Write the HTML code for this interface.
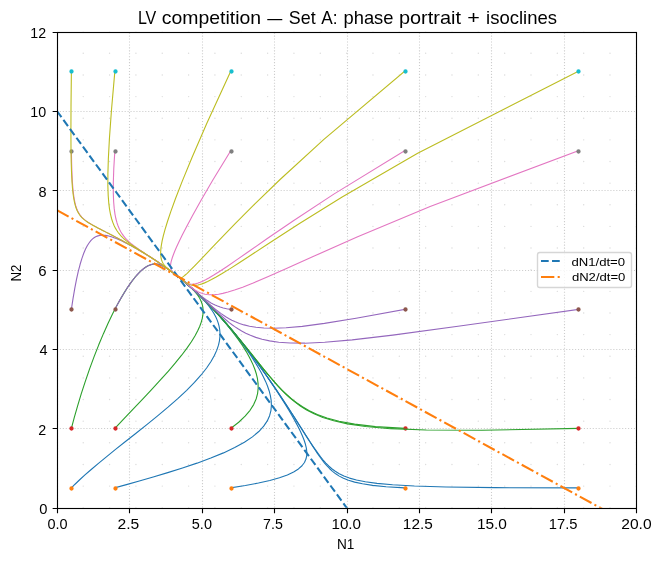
<!DOCTYPE html>
<html lang="en"><head><meta charset="utf-8"><title>LV competition — Set A: phase portrait + isoclines</title>
<style>html,body{margin:0;padding:0;background:#ffffff;}body{width:661px;height:561px;overflow:hidden;font-family:"Liberation Sans",sans-serif;}svg text{font-family:"Liberation Sans",sans-serif;}</style>
</head><body>
<svg width="661" height="561" viewBox="0 0 661 561" style="display:block;will-change:transform">
<rect x="0" y="0" width="661" height="561" fill="#ffffff"/>
<defs><clipPath id="ac"><rect x="56.903" y="31.667" width="579.451" height="476.055"/></clipPath></defs>
<g stroke="#b0b0b0" stroke-opacity="0.64" stroke-width="1.111" stroke-dasharray="1.111 1.833" fill="none" clip-path="url(#ac)">
<path d="M57.5 507.72V31.67"/>
<path d="M129.5 507.72V31.67"/>
<path d="M202.5 507.72V31.67"/>
<path d="M274.5 507.72V31.67"/>
<path d="M347.5 507.72V31.67"/>
<path d="M419.5 507.72V31.67"/>
<path d="M491.5 507.72V31.67"/>
<path d="M564.5 507.72V31.67"/>
<path d="M636.5 507.72V31.67"/>
<path d="M56.9 508.5H636.35"/>
<path d="M56.9 428.5H636.35"/>
<path d="M56.9 349.5H636.35"/>
<path d="M56.9 270.5H636.35"/>
<path d="M56.9 190.5H636.35"/>
<path d="M56.9 111.5H636.35"/>
<path d="M56.9 32.5H636.35"/>
</g>
<g fill="#d3d3d3" fill-opacity="0.8" clip-path="url(#ac)">
<circle cx="56.9" cy="507.72" r="0.7"/>
<circle cx="56.9" cy="486.08" r="0.7"/>
<circle cx="56.9" cy="464.44" r="0.7"/>
<circle cx="56.9" cy="442.81" r="0.7"/>
<circle cx="56.9" cy="421.17" r="0.7"/>
<circle cx="56.9" cy="399.53" r="0.7"/>
<circle cx="56.9" cy="377.89" r="0.7"/>
<circle cx="56.9" cy="356.25" r="0.7"/>
<circle cx="56.9" cy="334.61" r="0.7"/>
<circle cx="56.9" cy="312.97" r="0.7"/>
<circle cx="56.9" cy="291.33" r="0.7"/>
<circle cx="56.9" cy="269.69" r="0.7"/>
<circle cx="56.9" cy="248.06" r="0.7"/>
<circle cx="56.9" cy="226.42" r="0.7"/>
<circle cx="56.9" cy="204.78" r="0.7"/>
<circle cx="56.9" cy="183.14" r="0.7"/>
<circle cx="56.9" cy="161.5" r="0.7"/>
<circle cx="56.9" cy="139.86" r="0.7"/>
<circle cx="56.9" cy="118.22" r="0.7"/>
<circle cx="56.9" cy="96.58" r="0.7"/>
<circle cx="56.9" cy="74.95" r="0.7"/>
<circle cx="56.9" cy="53.31" r="0.7"/>
<circle cx="56.9" cy="31.67" r="0.7"/>
<circle cx="83.24" cy="507.72" r="0.7"/>
<circle cx="83.24" cy="486.08" r="0.7"/>
<circle cx="83.24" cy="464.44" r="0.7"/>
<circle cx="83.24" cy="442.81" r="0.7"/>
<circle cx="83.24" cy="421.17" r="0.7"/>
<circle cx="83.24" cy="399.53" r="0.7"/>
<circle cx="83.24" cy="377.89" r="0.7"/>
<circle cx="83.24" cy="356.25" r="0.7"/>
<circle cx="83.24" cy="334.61" r="0.7"/>
<circle cx="83.24" cy="312.97" r="0.7"/>
<circle cx="83.24" cy="291.33" r="0.7"/>
<circle cx="83.24" cy="269.69" r="0.7"/>
<circle cx="83.24" cy="248.06" r="0.7"/>
<circle cx="83.24" cy="226.42" r="0.7"/>
<circle cx="83.24" cy="204.78" r="0.7"/>
<circle cx="83.24" cy="183.14" r="0.7"/>
<circle cx="83.24" cy="161.5" r="0.7"/>
<circle cx="83.24" cy="139.86" r="0.7"/>
<circle cx="83.24" cy="118.22" r="0.7"/>
<circle cx="83.24" cy="96.58" r="0.7"/>
<circle cx="83.24" cy="74.95" r="0.7"/>
<circle cx="83.24" cy="53.31" r="0.7"/>
<circle cx="83.24" cy="31.67" r="0.7"/>
<circle cx="109.58" cy="507.72" r="0.7"/>
<circle cx="109.58" cy="486.08" r="0.7"/>
<circle cx="109.58" cy="464.44" r="0.7"/>
<circle cx="109.58" cy="442.81" r="0.7"/>
<circle cx="109.58" cy="421.17" r="0.7"/>
<circle cx="109.58" cy="399.53" r="0.7"/>
<circle cx="109.58" cy="377.89" r="0.7"/>
<circle cx="109.58" cy="356.25" r="0.7"/>
<circle cx="109.58" cy="334.61" r="0.7"/>
<circle cx="109.58" cy="312.97" r="0.7"/>
<circle cx="109.58" cy="291.33" r="0.7"/>
<circle cx="109.58" cy="269.69" r="0.7"/>
<circle cx="109.58" cy="248.06" r="0.7"/>
<circle cx="109.58" cy="226.42" r="0.7"/>
<circle cx="109.58" cy="204.78" r="0.7"/>
<circle cx="109.58" cy="183.14" r="0.7"/>
<circle cx="109.58" cy="161.5" r="0.7"/>
<circle cx="109.58" cy="139.86" r="0.7"/>
<circle cx="109.58" cy="118.22" r="0.7"/>
<circle cx="109.58" cy="96.58" r="0.7"/>
<circle cx="109.58" cy="74.95" r="0.7"/>
<circle cx="109.58" cy="53.31" r="0.7"/>
<circle cx="109.58" cy="31.67" r="0.7"/>
<circle cx="135.92" cy="507.72" r="0.7"/>
<circle cx="135.92" cy="486.08" r="0.7"/>
<circle cx="135.92" cy="464.44" r="0.7"/>
<circle cx="135.92" cy="442.81" r="0.7"/>
<circle cx="135.92" cy="421.17" r="0.7"/>
<circle cx="135.92" cy="399.53" r="0.7"/>
<circle cx="135.92" cy="377.89" r="0.7"/>
<circle cx="135.92" cy="356.25" r="0.7"/>
<circle cx="135.92" cy="334.61" r="0.7"/>
<circle cx="135.92" cy="312.97" r="0.7"/>
<circle cx="135.92" cy="291.33" r="0.7"/>
<circle cx="135.92" cy="269.69" r="0.7"/>
<circle cx="135.92" cy="248.06" r="0.7"/>
<circle cx="135.92" cy="226.42" r="0.7"/>
<circle cx="135.92" cy="204.78" r="0.7"/>
<circle cx="135.92" cy="183.14" r="0.7"/>
<circle cx="135.92" cy="161.5" r="0.7"/>
<circle cx="135.92" cy="139.86" r="0.7"/>
<circle cx="135.92" cy="118.22" r="0.7"/>
<circle cx="135.92" cy="96.58" r="0.7"/>
<circle cx="135.92" cy="74.95" r="0.7"/>
<circle cx="135.92" cy="53.31" r="0.7"/>
<circle cx="135.92" cy="31.67" r="0.7"/>
<circle cx="162.26" cy="507.72" r="0.7"/>
<circle cx="162.26" cy="486.08" r="0.7"/>
<circle cx="162.26" cy="464.44" r="0.7"/>
<circle cx="162.26" cy="442.81" r="0.7"/>
<circle cx="162.26" cy="421.17" r="0.7"/>
<circle cx="162.26" cy="399.53" r="0.7"/>
<circle cx="162.26" cy="377.89" r="0.7"/>
<circle cx="162.26" cy="356.25" r="0.7"/>
<circle cx="162.26" cy="334.61" r="0.7"/>
<circle cx="162.26" cy="312.97" r="0.7"/>
<circle cx="162.26" cy="291.33" r="0.7"/>
<circle cx="162.26" cy="269.69" r="0.7"/>
<circle cx="162.26" cy="248.06" r="0.7"/>
<circle cx="162.26" cy="226.42" r="0.7"/>
<circle cx="162.26" cy="204.78" r="0.7"/>
<circle cx="162.26" cy="183.14" r="0.7"/>
<circle cx="162.26" cy="161.5" r="0.7"/>
<circle cx="162.26" cy="139.86" r="0.7"/>
<circle cx="162.26" cy="118.22" r="0.7"/>
<circle cx="162.26" cy="96.58" r="0.7"/>
<circle cx="162.26" cy="74.95" r="0.7"/>
<circle cx="162.26" cy="53.31" r="0.7"/>
<circle cx="162.26" cy="31.67" r="0.7"/>
<circle cx="188.6" cy="507.72" r="0.7"/>
<circle cx="188.6" cy="486.08" r="0.7"/>
<circle cx="188.6" cy="464.44" r="0.7"/>
<circle cx="188.6" cy="442.81" r="0.7"/>
<circle cx="188.6" cy="421.17" r="0.7"/>
<circle cx="188.6" cy="399.53" r="0.7"/>
<circle cx="188.6" cy="377.89" r="0.7"/>
<circle cx="188.6" cy="356.25" r="0.7"/>
<circle cx="188.6" cy="334.61" r="0.7"/>
<circle cx="188.6" cy="312.97" r="0.7"/>
<circle cx="188.6" cy="291.33" r="0.7"/>
<circle cx="188.6" cy="269.69" r="0.7"/>
<circle cx="188.6" cy="248.06" r="0.7"/>
<circle cx="188.6" cy="226.42" r="0.7"/>
<circle cx="188.6" cy="204.78" r="0.7"/>
<circle cx="188.6" cy="183.14" r="0.7"/>
<circle cx="188.6" cy="161.5" r="0.7"/>
<circle cx="188.6" cy="139.86" r="0.7"/>
<circle cx="188.6" cy="118.22" r="0.7"/>
<circle cx="188.6" cy="96.58" r="0.7"/>
<circle cx="188.6" cy="74.95" r="0.7"/>
<circle cx="188.6" cy="53.31" r="0.7"/>
<circle cx="188.6" cy="31.67" r="0.7"/>
<circle cx="214.93" cy="507.72" r="0.7"/>
<circle cx="214.93" cy="486.08" r="0.7"/>
<circle cx="214.93" cy="464.44" r="0.7"/>
<circle cx="214.93" cy="442.81" r="0.7"/>
<circle cx="214.93" cy="421.17" r="0.7"/>
<circle cx="214.93" cy="399.53" r="0.7"/>
<circle cx="214.93" cy="377.89" r="0.7"/>
<circle cx="214.93" cy="356.25" r="0.7"/>
<circle cx="214.93" cy="334.61" r="0.7"/>
<circle cx="214.93" cy="312.97" r="0.7"/>
<circle cx="214.93" cy="291.33" r="0.7"/>
<circle cx="214.93" cy="269.69" r="0.7"/>
<circle cx="214.93" cy="248.06" r="0.7"/>
<circle cx="214.93" cy="226.42" r="0.7"/>
<circle cx="214.93" cy="204.78" r="0.7"/>
<circle cx="214.93" cy="183.14" r="0.7"/>
<circle cx="214.93" cy="161.5" r="0.7"/>
<circle cx="214.93" cy="139.86" r="0.7"/>
<circle cx="214.93" cy="118.22" r="0.7"/>
<circle cx="214.93" cy="96.58" r="0.7"/>
<circle cx="214.93" cy="74.95" r="0.7"/>
<circle cx="214.93" cy="53.31" r="0.7"/>
<circle cx="214.93" cy="31.67" r="0.7"/>
<circle cx="241.27" cy="507.72" r="0.7"/>
<circle cx="241.27" cy="486.08" r="0.7"/>
<circle cx="241.27" cy="464.44" r="0.7"/>
<circle cx="241.27" cy="442.81" r="0.7"/>
<circle cx="241.27" cy="421.17" r="0.7"/>
<circle cx="241.27" cy="399.53" r="0.7"/>
<circle cx="241.27" cy="377.89" r="0.7"/>
<circle cx="241.27" cy="356.25" r="0.7"/>
<circle cx="241.27" cy="334.61" r="0.7"/>
<circle cx="241.27" cy="312.97" r="0.7"/>
<circle cx="241.27" cy="291.33" r="0.7"/>
<circle cx="241.27" cy="269.69" r="0.7"/>
<circle cx="241.27" cy="248.06" r="0.7"/>
<circle cx="241.27" cy="226.42" r="0.7"/>
<circle cx="241.27" cy="204.78" r="0.7"/>
<circle cx="241.27" cy="183.14" r="0.7"/>
<circle cx="241.27" cy="161.5" r="0.7"/>
<circle cx="241.27" cy="139.86" r="0.7"/>
<circle cx="241.27" cy="118.22" r="0.7"/>
<circle cx="241.27" cy="96.58" r="0.7"/>
<circle cx="241.27" cy="74.95" r="0.7"/>
<circle cx="241.27" cy="53.31" r="0.7"/>
<circle cx="241.27" cy="31.67" r="0.7"/>
<circle cx="267.61" cy="507.72" r="0.7"/>
<circle cx="267.61" cy="486.08" r="0.7"/>
<circle cx="267.61" cy="464.44" r="0.7"/>
<circle cx="267.61" cy="442.81" r="0.7"/>
<circle cx="267.61" cy="421.17" r="0.7"/>
<circle cx="267.61" cy="399.53" r="0.7"/>
<circle cx="267.61" cy="377.89" r="0.7"/>
<circle cx="267.61" cy="356.25" r="0.7"/>
<circle cx="267.61" cy="334.61" r="0.7"/>
<circle cx="267.61" cy="312.97" r="0.7"/>
<circle cx="267.61" cy="291.33" r="0.7"/>
<circle cx="267.61" cy="269.69" r="0.7"/>
<circle cx="267.61" cy="248.06" r="0.7"/>
<circle cx="267.61" cy="226.42" r="0.7"/>
<circle cx="267.61" cy="204.78" r="0.7"/>
<circle cx="267.61" cy="183.14" r="0.7"/>
<circle cx="267.61" cy="161.5" r="0.7"/>
<circle cx="267.61" cy="139.86" r="0.7"/>
<circle cx="267.61" cy="118.22" r="0.7"/>
<circle cx="267.61" cy="96.58" r="0.7"/>
<circle cx="267.61" cy="74.95" r="0.7"/>
<circle cx="267.61" cy="53.31" r="0.7"/>
<circle cx="267.61" cy="31.67" r="0.7"/>
<circle cx="293.95" cy="507.72" r="0.7"/>
<circle cx="293.95" cy="486.08" r="0.7"/>
<circle cx="293.95" cy="464.44" r="0.7"/>
<circle cx="293.95" cy="442.81" r="0.7"/>
<circle cx="293.95" cy="421.17" r="0.7"/>
<circle cx="293.95" cy="399.53" r="0.7"/>
<circle cx="293.95" cy="377.89" r="0.7"/>
<circle cx="293.95" cy="356.25" r="0.7"/>
<circle cx="293.95" cy="334.61" r="0.7"/>
<circle cx="293.95" cy="312.97" r="0.7"/>
<circle cx="293.95" cy="291.33" r="0.7"/>
<circle cx="293.95" cy="269.69" r="0.7"/>
<circle cx="293.95" cy="248.06" r="0.7"/>
<circle cx="293.95" cy="226.42" r="0.7"/>
<circle cx="293.95" cy="204.78" r="0.7"/>
<circle cx="293.95" cy="183.14" r="0.7"/>
<circle cx="293.95" cy="161.5" r="0.7"/>
<circle cx="293.95" cy="139.86" r="0.7"/>
<circle cx="293.95" cy="118.22" r="0.7"/>
<circle cx="293.95" cy="96.58" r="0.7"/>
<circle cx="293.95" cy="74.95" r="0.7"/>
<circle cx="293.95" cy="53.31" r="0.7"/>
<circle cx="293.95" cy="31.67" r="0.7"/>
<circle cx="320.29" cy="507.72" r="0.7"/>
<circle cx="320.29" cy="486.08" r="0.7"/>
<circle cx="320.29" cy="464.44" r="0.7"/>
<circle cx="320.29" cy="442.81" r="0.7"/>
<circle cx="320.29" cy="421.17" r="0.7"/>
<circle cx="320.29" cy="399.53" r="0.7"/>
<circle cx="320.29" cy="377.89" r="0.7"/>
<circle cx="320.29" cy="356.25" r="0.7"/>
<circle cx="320.29" cy="334.61" r="0.7"/>
<circle cx="320.29" cy="312.97" r="0.7"/>
<circle cx="320.29" cy="291.33" r="0.7"/>
<circle cx="320.29" cy="269.69" r="0.7"/>
<circle cx="320.29" cy="248.06" r="0.7"/>
<circle cx="320.29" cy="226.42" r="0.7"/>
<circle cx="320.29" cy="204.78" r="0.7"/>
<circle cx="320.29" cy="183.14" r="0.7"/>
<circle cx="320.29" cy="161.5" r="0.7"/>
<circle cx="320.29" cy="139.86" r="0.7"/>
<circle cx="320.29" cy="118.22" r="0.7"/>
<circle cx="320.29" cy="96.58" r="0.7"/>
<circle cx="320.29" cy="74.95" r="0.7"/>
<circle cx="320.29" cy="53.31" r="0.7"/>
<circle cx="320.29" cy="31.67" r="0.7"/>
<circle cx="346.63" cy="507.72" r="0.7"/>
<circle cx="346.63" cy="486.08" r="0.7"/>
<circle cx="346.63" cy="464.44" r="0.7"/>
<circle cx="346.63" cy="442.81" r="0.7"/>
<circle cx="346.63" cy="421.17" r="0.7"/>
<circle cx="346.63" cy="399.53" r="0.7"/>
<circle cx="346.63" cy="377.89" r="0.7"/>
<circle cx="346.63" cy="356.25" r="0.7"/>
<circle cx="346.63" cy="334.61" r="0.7"/>
<circle cx="346.63" cy="312.97" r="0.7"/>
<circle cx="346.63" cy="291.33" r="0.7"/>
<circle cx="346.63" cy="269.69" r="0.7"/>
<circle cx="346.63" cy="248.06" r="0.7"/>
<circle cx="346.63" cy="226.42" r="0.7"/>
<circle cx="346.63" cy="204.78" r="0.7"/>
<circle cx="346.63" cy="183.14" r="0.7"/>
<circle cx="346.63" cy="161.5" r="0.7"/>
<circle cx="346.63" cy="139.86" r="0.7"/>
<circle cx="346.63" cy="118.22" r="0.7"/>
<circle cx="346.63" cy="96.58" r="0.7"/>
<circle cx="346.63" cy="74.95" r="0.7"/>
<circle cx="346.63" cy="53.31" r="0.7"/>
<circle cx="346.63" cy="31.67" r="0.7"/>
<circle cx="372.97" cy="507.72" r="0.7"/>
<circle cx="372.97" cy="486.08" r="0.7"/>
<circle cx="372.97" cy="464.44" r="0.7"/>
<circle cx="372.97" cy="442.81" r="0.7"/>
<circle cx="372.97" cy="421.17" r="0.7"/>
<circle cx="372.97" cy="399.53" r="0.7"/>
<circle cx="372.97" cy="377.89" r="0.7"/>
<circle cx="372.97" cy="356.25" r="0.7"/>
<circle cx="372.97" cy="334.61" r="0.7"/>
<circle cx="372.97" cy="312.97" r="0.7"/>
<circle cx="372.97" cy="291.33" r="0.7"/>
<circle cx="372.97" cy="269.69" r="0.7"/>
<circle cx="372.97" cy="248.06" r="0.7"/>
<circle cx="372.97" cy="226.42" r="0.7"/>
<circle cx="372.97" cy="204.78" r="0.7"/>
<circle cx="372.97" cy="183.14" r="0.7"/>
<circle cx="372.97" cy="161.5" r="0.7"/>
<circle cx="372.97" cy="139.86" r="0.7"/>
<circle cx="372.97" cy="118.22" r="0.7"/>
<circle cx="372.97" cy="96.58" r="0.7"/>
<circle cx="372.97" cy="74.95" r="0.7"/>
<circle cx="372.97" cy="53.31" r="0.7"/>
<circle cx="372.97" cy="31.67" r="0.7"/>
<circle cx="399.31" cy="507.72" r="0.7"/>
<circle cx="399.31" cy="486.08" r="0.7"/>
<circle cx="399.31" cy="464.44" r="0.7"/>
<circle cx="399.31" cy="442.81" r="0.7"/>
<circle cx="399.31" cy="421.17" r="0.7"/>
<circle cx="399.31" cy="399.53" r="0.7"/>
<circle cx="399.31" cy="377.89" r="0.7"/>
<circle cx="399.31" cy="356.25" r="0.7"/>
<circle cx="399.31" cy="334.61" r="0.7"/>
<circle cx="399.31" cy="312.97" r="0.7"/>
<circle cx="399.31" cy="291.33" r="0.7"/>
<circle cx="399.31" cy="269.69" r="0.7"/>
<circle cx="399.31" cy="248.06" r="0.7"/>
<circle cx="399.31" cy="226.42" r="0.7"/>
<circle cx="399.31" cy="204.78" r="0.7"/>
<circle cx="399.31" cy="183.14" r="0.7"/>
<circle cx="399.31" cy="161.5" r="0.7"/>
<circle cx="399.31" cy="139.86" r="0.7"/>
<circle cx="399.31" cy="118.22" r="0.7"/>
<circle cx="399.31" cy="96.58" r="0.7"/>
<circle cx="399.31" cy="74.95" r="0.7"/>
<circle cx="399.31" cy="53.31" r="0.7"/>
<circle cx="399.31" cy="31.67" r="0.7"/>
<circle cx="425.64" cy="507.72" r="0.7"/>
<circle cx="425.64" cy="486.08" r="0.7"/>
<circle cx="425.64" cy="464.44" r="0.7"/>
<circle cx="425.64" cy="442.81" r="0.7"/>
<circle cx="425.64" cy="421.17" r="0.7"/>
<circle cx="425.64" cy="399.53" r="0.7"/>
<circle cx="425.64" cy="377.89" r="0.7"/>
<circle cx="425.64" cy="356.25" r="0.7"/>
<circle cx="425.64" cy="334.61" r="0.7"/>
<circle cx="425.64" cy="312.97" r="0.7"/>
<circle cx="425.64" cy="291.33" r="0.7"/>
<circle cx="425.64" cy="269.69" r="0.7"/>
<circle cx="425.64" cy="248.06" r="0.7"/>
<circle cx="425.64" cy="226.42" r="0.7"/>
<circle cx="425.64" cy="204.78" r="0.7"/>
<circle cx="425.64" cy="183.14" r="0.7"/>
<circle cx="425.64" cy="161.5" r="0.7"/>
<circle cx="425.64" cy="139.86" r="0.7"/>
<circle cx="425.64" cy="118.22" r="0.7"/>
<circle cx="425.64" cy="96.58" r="0.7"/>
<circle cx="425.64" cy="74.95" r="0.7"/>
<circle cx="425.64" cy="53.31" r="0.7"/>
<circle cx="425.64" cy="31.67" r="0.7"/>
<circle cx="451.98" cy="507.72" r="0.7"/>
<circle cx="451.98" cy="486.08" r="0.7"/>
<circle cx="451.98" cy="464.44" r="0.7"/>
<circle cx="451.98" cy="442.81" r="0.7"/>
<circle cx="451.98" cy="421.17" r="0.7"/>
<circle cx="451.98" cy="399.53" r="0.7"/>
<circle cx="451.98" cy="377.89" r="0.7"/>
<circle cx="451.98" cy="356.25" r="0.7"/>
<circle cx="451.98" cy="334.61" r="0.7"/>
<circle cx="451.98" cy="312.97" r="0.7"/>
<circle cx="451.98" cy="291.33" r="0.7"/>
<circle cx="451.98" cy="269.69" r="0.7"/>
<circle cx="451.98" cy="248.06" r="0.7"/>
<circle cx="451.98" cy="226.42" r="0.7"/>
<circle cx="451.98" cy="204.78" r="0.7"/>
<circle cx="451.98" cy="183.14" r="0.7"/>
<circle cx="451.98" cy="161.5" r="0.7"/>
<circle cx="451.98" cy="139.86" r="0.7"/>
<circle cx="451.98" cy="118.22" r="0.7"/>
<circle cx="451.98" cy="96.58" r="0.7"/>
<circle cx="451.98" cy="74.95" r="0.7"/>
<circle cx="451.98" cy="53.31" r="0.7"/>
<circle cx="451.98" cy="31.67" r="0.7"/>
<circle cx="478.32" cy="507.72" r="0.7"/>
<circle cx="478.32" cy="486.08" r="0.7"/>
<circle cx="478.32" cy="464.44" r="0.7"/>
<circle cx="478.32" cy="442.81" r="0.7"/>
<circle cx="478.32" cy="421.17" r="0.7"/>
<circle cx="478.32" cy="399.53" r="0.7"/>
<circle cx="478.32" cy="377.89" r="0.7"/>
<circle cx="478.32" cy="356.25" r="0.7"/>
<circle cx="478.32" cy="334.61" r="0.7"/>
<circle cx="478.32" cy="312.97" r="0.7"/>
<circle cx="478.32" cy="291.33" r="0.7"/>
<circle cx="478.32" cy="269.69" r="0.7"/>
<circle cx="478.32" cy="248.06" r="0.7"/>
<circle cx="478.32" cy="226.42" r="0.7"/>
<circle cx="478.32" cy="204.78" r="0.7"/>
<circle cx="478.32" cy="183.14" r="0.7"/>
<circle cx="478.32" cy="161.5" r="0.7"/>
<circle cx="478.32" cy="139.86" r="0.7"/>
<circle cx="478.32" cy="118.22" r="0.7"/>
<circle cx="478.32" cy="96.58" r="0.7"/>
<circle cx="478.32" cy="74.95" r="0.7"/>
<circle cx="478.32" cy="53.31" r="0.7"/>
<circle cx="478.32" cy="31.67" r="0.7"/>
<circle cx="504.66" cy="507.72" r="0.7"/>
<circle cx="504.66" cy="486.08" r="0.7"/>
<circle cx="504.66" cy="464.44" r="0.7"/>
<circle cx="504.66" cy="442.81" r="0.7"/>
<circle cx="504.66" cy="421.17" r="0.7"/>
<circle cx="504.66" cy="399.53" r="0.7"/>
<circle cx="504.66" cy="377.89" r="0.7"/>
<circle cx="504.66" cy="356.25" r="0.7"/>
<circle cx="504.66" cy="334.61" r="0.7"/>
<circle cx="504.66" cy="312.97" r="0.7"/>
<circle cx="504.66" cy="291.33" r="0.7"/>
<circle cx="504.66" cy="269.69" r="0.7"/>
<circle cx="504.66" cy="248.06" r="0.7"/>
<circle cx="504.66" cy="226.42" r="0.7"/>
<circle cx="504.66" cy="204.78" r="0.7"/>
<circle cx="504.66" cy="183.14" r="0.7"/>
<circle cx="504.66" cy="161.5" r="0.7"/>
<circle cx="504.66" cy="139.86" r="0.7"/>
<circle cx="504.66" cy="118.22" r="0.7"/>
<circle cx="504.66" cy="96.58" r="0.7"/>
<circle cx="504.66" cy="74.95" r="0.7"/>
<circle cx="504.66" cy="53.31" r="0.7"/>
<circle cx="504.66" cy="31.67" r="0.7"/>
<circle cx="531" cy="507.72" r="0.7"/>
<circle cx="531" cy="486.08" r="0.7"/>
<circle cx="531" cy="464.44" r="0.7"/>
<circle cx="531" cy="442.81" r="0.7"/>
<circle cx="531" cy="421.17" r="0.7"/>
<circle cx="531" cy="399.53" r="0.7"/>
<circle cx="531" cy="377.89" r="0.7"/>
<circle cx="531" cy="356.25" r="0.7"/>
<circle cx="531" cy="334.61" r="0.7"/>
<circle cx="531" cy="312.97" r="0.7"/>
<circle cx="531" cy="291.33" r="0.7"/>
<circle cx="531" cy="269.69" r="0.7"/>
<circle cx="531" cy="248.06" r="0.7"/>
<circle cx="531" cy="226.42" r="0.7"/>
<circle cx="531" cy="204.78" r="0.7"/>
<circle cx="531" cy="183.14" r="0.7"/>
<circle cx="531" cy="161.5" r="0.7"/>
<circle cx="531" cy="139.86" r="0.7"/>
<circle cx="531" cy="118.22" r="0.7"/>
<circle cx="531" cy="96.58" r="0.7"/>
<circle cx="531" cy="74.95" r="0.7"/>
<circle cx="531" cy="53.31" r="0.7"/>
<circle cx="531" cy="31.67" r="0.7"/>
<circle cx="557.34" cy="507.72" r="0.7"/>
<circle cx="557.34" cy="486.08" r="0.7"/>
<circle cx="557.34" cy="464.44" r="0.7"/>
<circle cx="557.34" cy="442.81" r="0.7"/>
<circle cx="557.34" cy="421.17" r="0.7"/>
<circle cx="557.34" cy="399.53" r="0.7"/>
<circle cx="557.34" cy="377.89" r="0.7"/>
<circle cx="557.34" cy="356.25" r="0.7"/>
<circle cx="557.34" cy="334.61" r="0.7"/>
<circle cx="557.34" cy="312.97" r="0.7"/>
<circle cx="557.34" cy="291.33" r="0.7"/>
<circle cx="557.34" cy="269.69" r="0.7"/>
<circle cx="557.34" cy="248.06" r="0.7"/>
<circle cx="557.34" cy="226.42" r="0.7"/>
<circle cx="557.34" cy="204.78" r="0.7"/>
<circle cx="557.34" cy="183.14" r="0.7"/>
<circle cx="557.34" cy="161.5" r="0.7"/>
<circle cx="557.34" cy="139.86" r="0.7"/>
<circle cx="557.34" cy="118.22" r="0.7"/>
<circle cx="557.34" cy="96.58" r="0.7"/>
<circle cx="557.34" cy="74.95" r="0.7"/>
<circle cx="557.34" cy="53.31" r="0.7"/>
<circle cx="557.34" cy="31.67" r="0.7"/>
<circle cx="583.68" cy="507.72" r="0.7"/>
<circle cx="583.68" cy="486.08" r="0.7"/>
<circle cx="583.68" cy="464.44" r="0.7"/>
<circle cx="583.68" cy="442.81" r="0.7"/>
<circle cx="583.68" cy="421.17" r="0.7"/>
<circle cx="583.68" cy="399.53" r="0.7"/>
<circle cx="583.68" cy="377.89" r="0.7"/>
<circle cx="583.68" cy="356.25" r="0.7"/>
<circle cx="583.68" cy="334.61" r="0.7"/>
<circle cx="583.68" cy="312.97" r="0.7"/>
<circle cx="583.68" cy="291.33" r="0.7"/>
<circle cx="583.68" cy="269.69" r="0.7"/>
<circle cx="583.68" cy="248.06" r="0.7"/>
<circle cx="583.68" cy="226.42" r="0.7"/>
<circle cx="583.68" cy="204.78" r="0.7"/>
<circle cx="583.68" cy="183.14" r="0.7"/>
<circle cx="583.68" cy="161.5" r="0.7"/>
<circle cx="583.68" cy="139.86" r="0.7"/>
<circle cx="583.68" cy="118.22" r="0.7"/>
<circle cx="583.68" cy="96.58" r="0.7"/>
<circle cx="583.68" cy="74.95" r="0.7"/>
<circle cx="583.68" cy="53.31" r="0.7"/>
<circle cx="583.68" cy="31.67" r="0.7"/>
<circle cx="610.01" cy="507.72" r="0.7"/>
<circle cx="610.01" cy="486.08" r="0.7"/>
<circle cx="610.01" cy="464.44" r="0.7"/>
<circle cx="610.01" cy="442.81" r="0.7"/>
<circle cx="610.01" cy="421.17" r="0.7"/>
<circle cx="610.01" cy="399.53" r="0.7"/>
<circle cx="610.01" cy="377.89" r="0.7"/>
<circle cx="610.01" cy="356.25" r="0.7"/>
<circle cx="610.01" cy="334.61" r="0.7"/>
<circle cx="610.01" cy="312.97" r="0.7"/>
<circle cx="610.01" cy="291.33" r="0.7"/>
<circle cx="610.01" cy="269.69" r="0.7"/>
<circle cx="610.01" cy="248.06" r="0.7"/>
<circle cx="610.01" cy="226.42" r="0.7"/>
<circle cx="610.01" cy="204.78" r="0.7"/>
<circle cx="610.01" cy="183.14" r="0.7"/>
<circle cx="610.01" cy="161.5" r="0.7"/>
<circle cx="610.01" cy="139.86" r="0.7"/>
<circle cx="610.01" cy="118.22" r="0.7"/>
<circle cx="610.01" cy="96.58" r="0.7"/>
<circle cx="610.01" cy="74.95" r="0.7"/>
<circle cx="610.01" cy="53.31" r="0.7"/>
<circle cx="610.01" cy="31.67" r="0.7"/>
<circle cx="636.35" cy="507.72" r="0.7"/>
<circle cx="636.35" cy="486.08" r="0.7"/>
<circle cx="636.35" cy="464.44" r="0.7"/>
<circle cx="636.35" cy="442.81" r="0.7"/>
<circle cx="636.35" cy="421.17" r="0.7"/>
<circle cx="636.35" cy="399.53" r="0.7"/>
<circle cx="636.35" cy="377.89" r="0.7"/>
<circle cx="636.35" cy="356.25" r="0.7"/>
<circle cx="636.35" cy="334.61" r="0.7"/>
<circle cx="636.35" cy="312.97" r="0.7"/>
<circle cx="636.35" cy="291.33" r="0.7"/>
<circle cx="636.35" cy="269.69" r="0.7"/>
<circle cx="636.35" cy="248.06" r="0.7"/>
<circle cx="636.35" cy="226.42" r="0.7"/>
<circle cx="636.35" cy="204.78" r="0.7"/>
<circle cx="636.35" cy="183.14" r="0.7"/>
<circle cx="636.35" cy="161.5" r="0.7"/>
<circle cx="636.35" cy="139.86" r="0.7"/>
<circle cx="636.35" cy="118.22" r="0.7"/>
<circle cx="636.35" cy="96.58" r="0.7"/>
<circle cx="636.35" cy="74.95" r="0.7"/>
<circle cx="636.35" cy="53.31" r="0.7"/>
<circle cx="636.35" cy="31.67" r="0.7"/>
</g>
<g clip-path="url(#ac)" stroke-linejoin="round" stroke-linecap="square">
<path d="M71.39 487.89L75.02 484.23L79.42 480.01L84.69 475.18L90.92 469.71L98.15 463.58L106.38 456.81L115.54 449.44L125.49 441.55L136.02 433.24L146.83 424.64L157.6 415.91L168.02 407.18L177.78 398.61L186.65 390.33L194.45 382.42L201.11 374.97L206.61 368L210.99 361.55L214.36 355.6L216.82 350.14L218.49 345.14L219.49 340.56L219.95 336.38L219.96 332.54L219.62 329.03L219 325.81L218.17 322.84L217.18 320.1L216.08 317.57L214.89 315.23L213.66 313.05L212.4 311.03L211.12 309.14L209.85 307.38L208.6 305.73L207.36 304.19L206.15 302.74L204.97 301.38L203.83 300.1L202.72 298.9L201.66 297.76L200.62 296.69L199.63 295.68L198.68 294.72L197.76 293.82L196.88 292.97L196.04 292.16L195.23 291.39L194.46 290.67L193.72 289.98L193.01 289.33L192.33 288.71L191.68 288.12L191.06 287.56L190.46 287.03L189.9 286.53L189.35 286.05L188.84 285.6L188.34 285.17L187.87 284.75L187.41 284.36L186.98 283.99L186.57 283.64L186.17 283.3L185.8 282.98L185.44 282.68L185.09 282.39L184.76 282.11L184.45 281.84L183.86 281.35L183.32 280.91L182.83 280.5L182.38 280.13L181.97 279.8L181.6 279.49L181.26 279.22L180.95 278.96L180.53 278.62L180.16 278.33L179.84 278.07L179.48 277.78L179.11 277.48L178.76 277.21L178.42 276.93L178.09 276.67L177.77 276.42L177.64 276.32" fill="none" stroke="#1f77b4" stroke-width="1.111"/>
<circle cx="71.5" cy="488.5" r="1.469" fill="#ff7f0e" stroke="#ff7f0e" stroke-width="1.389"/>
<path d="M71.39 428.38L74.31 417.43L77.62 405.82L81.3 393.71L85.31 381.32L89.6 368.88L94.11 356.64L98.75 344.83L103.44 333.65L108.09 323.27L112.63 313.81L117 305.33L121.15 297.86L125.04 291.37L128.66 285.82L132 281.13L135.06 277.23L137.86 274.03L140.41 271.43L142.74 269.36L144.86 267.73L146.79 266.49L148.55 265.56L150.17 264.89L151.65 264.43L153.02 264.15L154.28 264.01L155.45 263.99L156.53 264.06L157.55 264.2L158.5 264.4L159.39 264.64L160.22 264.91L161.01 265.21L161.76 265.52L162.47 265.85L163.14 266.18L163.78 266.52L164.38 266.86L164.96 267.19L165.51 267.52L166.03 267.84L166.53 268.16L167.01 268.47L167.47 268.77L167.9 269.07L168.32 269.35L168.72 269.63L169.1 269.9L169.47 270.15L169.82 270.4L170.15 270.64L170.78 271.1L171.35 271.52L171.88 271.91L172.36 272.27L172.81 272.6L173.21 272.91L173.58 273.19L173.93 273.45L174.38 273.8L174.79 274.1L175.14 274.37L175.54 274.69L175.88 274.95L176.23 275.22L176.55 275.47L176.87 275.72L177.2 275.98L177.52 276.23L177.61 276.3" fill="none" stroke="#2ca02c" stroke-width="1.111"/>
<circle cx="71.5" cy="428.5" r="1.469" fill="#d62728" stroke="#d62728" stroke-width="1.389"/>
<path d="M71.39 309.37L73.05 298.37L74.77 288.35L76.51 279.38L78.28 271.44L80.06 264.53L81.85 258.59L83.64 253.54L85.43 249.32L87.23 245.82L89.02 242.98L90.81 240.7L92.59 238.91L94.38 237.55L96.17 236.55L97.95 235.87L99.74 235.44L101.52 235.24L103.3 235.22L105.09 235.36L106.87 235.63L108.64 236.01L110.41 236.49L112.18 237.04L113.94 237.66L115.69 238.33L117.42 239.04L119.15 239.79L120.86 240.56L122.55 241.36L124.22 242.18L125.87 243L127.5 243.84L129.11 244.68L130.68 245.52L132.24 246.36L133.76 247.2L135.25 248.04L136.71 248.87L138.14 249.69L139.53 250.5L140.9 251.3L142.22 252.09L143.52 252.86L144.77 253.63L146 254.37L147.19 255.11L148.34 255.82L149.46 256.52L150.54 257.21L151.59 257.88L152.61 258.53L153.59 259.16L154.54 259.78L155.45 260.38L156.34 260.97L157.19 261.53L158.02 262.08L158.81 262.62L159.57 263.14L160.31 263.64L161.02 264.12L161.7 264.59L162.36 265.04L162.99 265.48L163.6 265.91L164.18 266.32L164.74 266.71L165.28 267.09L165.8 267.46L166.29 267.81L166.77 268.15L167.23 268.48L167.66 268.8L168.09 269.1L168.49 269.4L168.88 269.68L169.25 269.95L169.6 270.21L169.95 270.46L170.27 270.71L170.89 271.16L171.45 271.58L171.97 271.97L172.44 272.32L172.88 272.65L173.28 272.95L173.64 273.23L173.98 273.49L174.43 273.83L174.83 274.14L175.18 274.4L175.57 274.71L175.91 274.97L176.25 275.23L176.57 275.48L176.92 275.75L177.24 276.01L177.56 276.26L177.58 276.28" fill="none" stroke="#9467bd" stroke-width="1.111"/>
<circle cx="71.5" cy="309.5" r="1.469" fill="#8c564b" stroke="#8c564b" stroke-width="1.389"/>
<path d="M71.39 150.68L71.64 164.1L72 174.56L72.45 182.84L72.99 189.47L73.6 194.85L74.28 199.26L75.02 202.9L75.81 205.95L76.67 208.52L77.58 210.71L78.54 212.6L79.55 214.26L80.61 215.72L81.72 217.03L82.87 218.21L84.07 219.31L85.32 220.33L86.61 221.29L87.94 222.21L89.31 223.09L90.72 223.95L92.16 224.8L93.64 225.64L95.16 226.47L96.7 227.3L98.27 228.14L99.87 228.97L101.49 229.81L103.13 230.66L104.79 231.51L106.46 232.37L108.14 233.24L109.84 234.12L111.54 235L113.24 235.88L114.94 236.77L116.64 237.67L118.34 238.57L120.02 239.46L121.7 240.36L123.36 241.26L125 242.16L126.62 243.05L128.23 243.94L129.81 244.83L131.37 245.71L132.9 246.58L134.4 247.44L135.87 248.29L137.32 249.13L138.73 249.96L140.1 250.78L141.45 251.58L142.76 252.37L144.04 253.15L145.28 253.91L146.49 254.65L147.66 255.38L148.8 256.1L149.9 256.79L150.97 257.47L152.01 258.14L153.01 258.78L153.98 259.41L154.91 260.02L155.81 260.62L156.69 261.19L157.53 261.76L158.34 262.3L159.12 262.83L159.87 263.34L160.6 263.83L161.3 264.31L161.97 264.77L162.62 265.22L163.24 265.65L163.83 266.07L164.41 266.48L164.96 266.87L165.49 267.24L166 267.6L166.49 267.95L166.95 268.29L167.4 268.61L167.84 268.92L168.25 269.22L168.65 269.51L169.03 269.79L169.39 270.06L169.74 270.32L170.08 270.56L170.71 271.03L171.29 271.46L171.82 271.85L172.31 272.22L172.75 272.56L173.16 272.87L173.54 273.15L173.88 273.41L174.35 273.77L174.75 274.08L175.11 274.35L175.52 274.67L175.86 274.93L176.21 275.2L176.54 275.46L176.86 275.71L177.2 275.97L177.51 276.22L177.56 276.26" fill="none" stroke="#e377c2" stroke-width="1.111"/>
<circle cx="71.5" cy="151.5" r="1.469" fill="#7f7f7f" stroke="#7f7f7f" stroke-width="1.389"/>
<path d="M71.39 71.34L71.02 105.47L70.91 130.04L70.99 148.31L71.22 162.23L71.56 173.05L71.99 181.6L72.51 188.44L73.1 193.97L73.76 198.49L74.47 202.23L75.25 205.35L76.08 207.97L76.97 210.21L77.9 212.13L78.89 213.8L79.93 215.28L81.01 216.6L82.14 217.8L83.32 218.89L84.54 219.91L85.81 220.87L87.12 221.79L88.46 222.67L89.85 223.52L91.28 224.37L92.74 225.2L94.23 226.02L95.76 226.84L97.31 227.67L98.9 228.49L100.5 229.33L102.13 230.17L103.78 231.01L105.45 231.87L107.12 232.73L108.81 233.6L110.51 234.47L112.21 235.35L113.92 236.24L115.62 237.13L117.32 238.03L119.01 238.93L120.69 239.82L122.36 240.72L124.01 241.62L125.65 242.52L127.26 243.41L128.86 244.3L130.43 245.18L131.98 246.05L133.5 246.92L134.99 247.78L136.45 248.62L137.88 249.46L139.28 250.29L140.64 251.1L141.97 251.9L143.27 252.68L144.53 253.45L145.76 254.21L146.96 254.94L148.12 255.67L149.24 256.37L150.33 257.06L151.39 257.74L152.41 258.39L153.4 259.03L154.35 259.66L155.27 260.26L156.16 260.85L157.02 261.42L157.85 261.97L158.65 262.51L159.42 263.03L160.17 263.54L160.88 264.02L161.57 264.5L162.23 264.95L162.86 265.4L163.48 265.82L164.06 266.23L164.63 266.63L165.17 267.02L165.69 267.39L166.19 267.74L166.67 268.09L167.14 268.42L167.58 268.74L168 269.04L168.41 269.34L168.8 269.62L169.17 269.9L169.53 270.16L169.88 270.41L170.21 270.66L170.83 271.12L171.4 271.54L171.92 271.93L172.4 272.29L172.84 272.62L173.24 272.92L173.61 273.2L173.95 273.46L174.4 273.81L174.8 274.12L175.15 274.39L175.55 274.69L175.89 274.95L176.23 275.22L176.56 275.47L176.88 275.72L177.2 275.98L177.52 276.23L177.55 276.25" fill="none" stroke="#bcbd22" stroke-width="1.111"/>
<circle cx="71.5" cy="71.5" r="1.469" fill="#17becf" stroke="#17becf" stroke-width="1.389"/>
<path d="M114.85 487.89L126.45 484.61L139.31 480.97L153.19 476.97L167.73 472.64L182.5 468.02L197.01 463.15L210.8 458.09L223.47 452.88L234.73 447.58L244.4 442.23L252.42 436.86L258.82 431.51L263.72 426.18L267.26 420.9L269.6 415.68L270.93 410.53L271.4 405.45L271.18 400.45L270.37 395.55L269.11 390.73L267.49 386.02L265.58 381.41L263.45 376.91L261.17 372.53L258.76 368.27L256.28 364.14L253.75 360.13L251.2 356.26L248.64 352.52L246.1 348.93L243.58 345.46L241.1 342.14L238.66 338.95L236.28 335.89L233.95 332.97L231.69 330.18L229.49 327.51L227.36 324.97L225.29 322.55L223.3 320.25L221.37 318.06L219.52 315.97L217.73 313.99L216.01 312.11L214.35 310.33L212.76 308.64L211.23 307.03L209.77 305.5L208.36 304.06L207.02 302.69L205.73 301.39L204.49 300.15L203.31 298.98L202.17 297.88L201.09 296.82L200.05 295.83L199.06 294.88L198.11 293.98L197.2 293.13L196.33 292.32L195.51 291.56L194.71 290.83L193.95 290.14L193.23 289.48L192.54 288.86L191.88 288.27L191.25 287.7L190.64 287.17L190.07 286.66L189.51 286.18L188.99 285.72L188.48 285.28L188 284.87L187.55 284.47L187.11 284.09L186.69 283.74L186.29 283.39L185.9 283.07L185.54 282.76L185.19 282.47L184.86 282.19L184.54 281.92L183.94 281.42L183.4 280.97L182.9 280.56L182.45 280.18L182.03 279.84L181.65 279.54L181.31 279.25L180.99 279L180.57 278.65L180.2 278.36L179.87 278.1L179.5 277.8L179.13 277.5L178.77 277.22L178.43 276.94L178.09 276.68L177.78 276.43L177.66 276.34" fill="none" stroke="#1f77b4" stroke-width="1.111"/>
<circle cx="115.5" cy="488.5" r="1.469" fill="#ff7f0e" stroke="#ff7f0e" stroke-width="1.389"/>
<path d="M114.85 428.38L123.82 418.84L133.09 409.07L142.42 399.26L151.55 389.59L160.21 380.23L168.2 371.31L175.38 362.95L181.65 355.21L186.98 348.14L191.39 341.73L194.93 335.96L197.7 330.8L199.78 326.19L201.27 322.1L202.26 318.45L202.85 315.21L203.09 312.32L203.08 309.74L202.85 307.42L202.46 305.34L201.94 303.46L201.34 301.75L200.66 300.2L199.95 298.78L199.2 297.48L198.44 296.29L197.68 295.18L196.91 294.16L196.16 293.21L195.42 292.32L194.69 291.5L193.99 290.72L193.31 290L192.65 289.31L192.01 288.67L191.39 288.07L190.8 287.5L190.23 286.96L189.68 286.45L189.16 285.97L188.65 285.51L188.17 285.08L187.71 284.67L187.27 284.28L186.84 283.91L186.44 283.55L186.05 283.22L185.68 282.9L185.33 282.6L184.99 282.31L184.66 282.04L184.35 281.77L183.78 281.29L183.25 280.85L182.76 280.45L182.32 280.08L181.92 279.75L181.55 279.45L181.21 279.18L180.76 278.81L180.36 278.49L180.02 278.21L179.63 277.9L179.3 277.64L178.96 277.37L178.65 277.12L178.31 276.85L177.99 276.6L177.67 276.35L177.63 276.31" fill="none" stroke="#2ca02c" stroke-width="1.111"/>
<circle cx="115.5" cy="428.5" r="1.469" fill="#d62728" stroke="#d62728" stroke-width="1.389"/>
<path d="M114.85 309.37L119.11 301.4L123.13 294.43L126.88 288.42L130.36 283.32L133.56 279.04L136.49 275.5L139.16 272.62L141.6 270.3L143.81 268.47L145.84 267.04L147.68 265.96L149.37 265.17L150.91 264.61L152.33 264.25L153.65 264.05L154.86 263.97L155.99 264L157.04 264.11L158.02 264.28L158.94 264.5L159.8 264.76L160.61 265.05L161.38 265.36L162.11 265.68L162.8 266.01L163.45 266.34L164.07 266.68L164.66 267.02L165.23 267.35L165.76 267.68L166.28 268L166.76 268.31L167.23 268.62L167.68 268.92L168.11 269.21L168.51 269.49L168.9 269.76L169.28 270.02L169.64 270.28L169.98 270.52L170.31 270.76L170.92 271.2L171.48 271.62L172 272L172.47 272.35L172.91 272.68L173.3 272.98L173.67 273.25L174 273.51L174.45 273.85L174.85 274.15L175.19 274.41L175.59 274.72L175.92 274.98L176.26 275.24L176.58 275.49L176.92 275.76L177.25 276.01L177.56 276.26L177.62 276.3" fill="none" stroke="#9467bd" stroke-width="1.111"/>
<circle cx="115.5" cy="309.5" r="1.469" fill="#8c564b" stroke="#8c564b" stroke-width="1.389"/>
<path d="M114.85 150.68L113.78 168.65L113.32 182.4L113.31 193.15L113.64 201.72L114.23 208.64L115.01 214.31L115.96 219.02L117.04 222.97L118.21 226.33L119.47 229.22L120.78 231.73L122.15 233.94L123.56 235.91L124.99 237.67L126.44 239.27L127.9 240.74L129.36 242.1L130.82 243.36L132.27 244.55L133.71 245.67L135.14 246.74L136.55 247.76L137.93 248.73L139.3 249.67L140.63 250.58L141.94 251.45L143.22 252.3L144.46 253.12L145.68 253.92L146.86 254.7L148.02 255.45L149.14 256.18L150.22 256.89L151.28 257.58L152.3 258.25L153.28 258.9L154.24 259.54L155.16 260.15L156.06 260.75L156.92 261.32L157.75 261.88L158.55 262.43L159.33 262.95L160.07 263.46L160.79 263.95L161.48 264.43L162.14 264.89L162.78 265.33L163.4 265.76L163.99 266.18L164.55 266.58L165.1 266.96L165.62 267.33L166.13 267.69L166.61 268.04L167.07 268.37L167.52 268.69L167.95 269L168.36 269.3L168.75 269.59L169.12 269.86L169.49 270.13L169.83 270.38L170.16 270.62L170.79 271.09L171.36 271.51L171.88 271.9L172.37 272.27L172.81 272.6L173.21 272.9L173.59 273.19L173.93 273.45L174.38 273.8L174.79 274.1L175.14 274.37L175.54 274.69L175.88 274.95L176.23 275.22L176.55 275.47L176.87 275.72L177.2 275.98L177.52 276.23L177.6 276.29" fill="none" stroke="#e377c2" stroke-width="1.111"/>
<circle cx="115.5" cy="151.5" r="1.469" fill="#7f7f7f" stroke="#7f7f7f" stroke-width="1.389"/>
<path d="M114.85 71.34L111.44 110.57L109.44 138.3L108.35 158.69L107.89 174.14L107.87 186.11L108.2 195.57L108.78 203.18L109.57 209.37L110.52 214.48L111.6 218.75L112.79 222.36L114.06 225.45L115.4 228.13L116.8 230.47L118.24 232.55L119.71 234.4L121.21 236.09L122.73 237.62L124.25 239.04L125.78 240.36L127.31 241.6L128.83 242.78L130.34 243.89L131.83 244.96L133.31 245.98L134.77 246.97L136.21 247.92L137.62 248.84L139 249.74L140.35 250.61L141.68 251.46L142.97 252.29L144.23 253.09L145.46 253.88L146.65 254.64L147.82 255.38L148.94 256.11L150.04 256.82L151.1 257.5L152.13 258.17L153.12 258.82L154.09 259.45L155.02 260.07L155.91 260.66L156.78 261.24L157.62 261.8L158.43 262.35L159.2 262.87L159.95 263.39L160.68 263.88L161.37 264.36L162.04 264.82L162.68 265.27L163.3 265.7L163.9 266.11L164.47 266.52L165.02 266.9L165.54 267.28L166.05 267.64L166.54 267.99L167 268.32L167.45 268.64L167.88 268.96L168.29 269.25L168.69 269.54L169.07 269.82L169.43 270.09L169.78 270.34L170.11 270.59L170.74 271.05L171.32 271.48L171.85 271.87L172.33 272.24L172.78 272.57L173.18 272.88L173.56 273.17L173.9 273.43L174.36 273.78L174.77 274.09L175.12 274.36L175.53 274.67L175.87 274.94L176.22 275.21L176.55 275.46L176.87 275.72L177.2 275.97L177.52 276.22L177.6 276.29" fill="none" stroke="#bcbd22" stroke-width="1.111"/>
<circle cx="115.5" cy="71.5" r="1.469" fill="#17becf" stroke="#17becf" stroke-width="1.389"/>
<path d="M230.74 487.89L245.36 485.53L258.46 483.05L269.84 480.45L279.46 477.74L287.35 474.92L293.63 471.99L298.45 468.94L302 465.78L304.46 462.49L305.98 459.09L306.72 455.56L306.81 451.92L306.35 448.15L305.44 444.27L304.15 440.28L302.55 436.19L300.69 432L298.61 427.72L296.34 423.37L293.92 418.96L291.37 414.5L288.71 410L285.97 405.49L283.15 400.96L280.28 396.45L277.38 391.96L274.44 387.51L271.49 383.11L268.54 378.77L265.59 374.51L262.66 370.33L259.75 366.25L256.88 362.28L254.04 358.41L251.25 354.67L248.51 351.04L245.83 347.54L243.21 344.17L240.65 340.93L238.16 337.81L235.74 334.82L233.39 331.97L231.11 329.23L228.91 326.62L226.78 324.13L224.72 321.76L222.73 319.5L220.82 317.35L218.97 315.31L217.2 313.36L215.49 311.52L213.85 309.77L212.28 308.1L210.77 306.53L209.32 305.03L207.94 303.61L206.6 302.26L205.33 300.98L204.11 299.77L202.94 298.62L201.82 297.53L200.75 296.5L199.73 295.52L198.75 294.59L197.82 293.71L196.92 292.87L196.07 292.08L195.25 291.32L194.47 290.61L193.72 289.93L193.01 289.28L192.33 288.67L191.67 288.08L191.05 287.53L190.46 287L189.89 286.5L189.34 286.03L188.83 285.58L188.33 285.15L187.86 284.74L187.4 284.35L186.97 283.98L186.56 283.63L186.16 283.29L185.79 282.97L185.43 282.67L185.08 282.38L184.75 282.1L184.44 281.84L183.85 281.35L183.31 280.9L182.82 280.5L182.38 280.13L181.97 279.79L181.59 279.49L181.25 279.21L180.94 278.96L180.52 278.62L180.16 278.33L179.84 278.07L179.48 277.78L179.11 277.48L178.76 277.2L178.42 276.93L178.09 276.67L177.77 276.42L177.67 276.35" fill="none" stroke="#1f77b4" stroke-width="1.111"/>
<circle cx="231.5" cy="488.5" r="1.469" fill="#ff7f0e" stroke="#ff7f0e" stroke-width="1.389"/>
<path d="M230.74 428.38L238.69 422.24L245.1 416.21L250.05 410.32L253.67 404.58L256.12 399L257.57 393.6L258.17 388.38L258.07 383.33L257.41 378.46L256.3 373.76L254.84 369.23L253.11 364.88L251.18 360.69L249.11 356.66L246.93 352.8L244.69 349.1L242.41 345.55L240.12 342.16L237.84 338.92L235.58 335.83L233.35 332.87L231.17 330.06L229.03 327.37L226.96 324.82L224.93 322.39L222.98 320.08L221.08 317.89L219.25 315.81L217.48 313.83L215.78 311.95L214.14 310.17L212.56 308.48L211.05 306.88L209.6 305.36L208.2 303.92L206.86 302.55L205.58 301.26L204.35 300.03L203.18 298.87L202.05 297.76L200.97 296.72L199.94 295.73L198.95 294.79L198.01 293.89L197.11 293.05L196.24 292.24L195.42 291.48L194.63 290.75L193.87 290.07L193.15 289.41L192.47 288.79L191.81 288.21L191.18 287.65L190.58 287.11L190 286.61L189.46 286.13L188.93 285.67L188.43 285.24L187.95 284.82L187.5 284.43L187.06 284.05L186.64 283.7L186.24 283.36L185.86 283.04L185.5 282.73L185.15 282.44L184.82 282.16L184.5 281.89L183.91 281.4L183.37 280.95L182.87 280.54L182.42 280.17L182.01 279.83L181.63 279.52L181.29 279.24L180.97 278.98L180.55 278.64L180.18 278.35L179.86 278.09L179.49 277.79L179.12 277.49L178.77 277.21L178.42 276.94L178.09 276.68L177.78 276.43L177.64 276.32" fill="none" stroke="#2ca02c" stroke-width="1.111"/>
<circle cx="231.5" cy="428.5" r="1.469" fill="#d62728" stroke="#d62728" stroke-width="1.389"/>
<path d="M230.74 309.37L226.7 308.76L223.22 307.98L220.18 307.08L217.51 306.1L215.12 305.06L212.96 303.99L211.01 302.92L209.22 301.84L207.58 300.77L206.06 299.73L204.64 298.71L203.32 297.72L202.08 296.76L200.92 295.83L199.82 294.94L198.79 294.09L197.81 293.27L196.88 292.48L196 291.73L195.16 291.02L194.37 290.33L193.61 289.68L192.89 289.06L192.21 288.46L191.55 287.9L190.93 287.36L190.34 286.85L189.77 286.36L189.23 285.89L188.71 285.45L188.22 285.03L187.75 284.63L187.3 284.24L186.87 283.88L186.46 283.53L186.07 283.2L185.7 282.89L185.34 282.59L185 282.3L184.67 282.03L184.36 281.77L183.78 281.29L183.25 280.85L182.77 280.45L182.32 280.08L181.92 279.75L181.55 279.45L181.21 279.18L180.76 278.81L180.37 278.49L180.02 278.21L179.63 277.9L179.3 277.64L178.96 277.37L178.65 277.12L178.31 276.85L177.99 276.6L177.67 276.35L177.63 276.31" fill="none" stroke="#9467bd" stroke-width="1.111"/>
<circle cx="231.5" cy="309.5" r="1.469" fill="#8c564b" stroke="#8c564b" stroke-width="1.389"/>
<path d="M230.74 150.68L213 179.75L201.07 200.2L192.71 215.15L186.69 226.39L182.27 235L179 241.73L176.55 247.04L174.72 251.29L173.37 254.72L172.37 257.51L171.65 259.81L171.14 261.7L170.8 263.27L170.6 264.6L170.49 265.71L170.47 266.66L170.51 267.47L170.6 268.17L170.72 268.78L170.87 269.31L171.04 269.78L171.23 270.19L171.42 270.57L171.83 271.2L172.24 271.73L172.64 272.18L173.03 272.57L173.39 272.91L173.74 273.22L174.05 273.49L174.49 273.84L174.87 274.15L175.21 274.42L175.6 274.73L175.93 274.98L176.27 275.25L176.58 275.49L176.92 275.76L177.25 276.01L177.56 276.26L177.62 276.3" fill="none" stroke="#e377c2" stroke-width="1.111"/>
<circle cx="231.5" cy="151.5" r="1.469" fill="#7f7f7f" stroke="#7f7f7f" stroke-width="1.389"/>
<path d="M230.74 71.34L206.96 123.06L192.12 157.21L182.29 181.12L175.53 198.56L170.78 211.66L167.4 221.74L164.99 229.63L163.3 235.9L162.14 240.95L161.38 245.06L160.92 248.44L160.7 251.25L160.66 253.61L160.76 255.6L160.96 257.29L161.25 258.75L161.6 260.01L161.99 261.12L162.42 262.09L162.87 262.96L163.34 263.73L163.81 264.43L164.29 265.06L164.77 265.64L165.24 266.18L165.7 266.67L166.16 267.13L166.6 267.56L167.04 267.96L167.46 268.33L167.87 268.69L168.27 269.02L168.65 269.34L169.02 269.64L169.38 269.93L169.72 270.2L170.05 270.46L170.37 270.71L170.97 271.18L171.52 271.6L172.03 271.99L172.5 272.35L172.93 272.68L173.32 272.98L173.68 273.26L174.01 273.51L174.46 273.85L174.85 274.15L175.2 274.42L175.59 274.72L175.92 274.98L176.26 275.24L176.58 275.49L176.92 275.76L177.25 276.01L177.56 276.26L177.62 276.3" fill="none" stroke="#bcbd22" stroke-width="1.111"/>
<circle cx="231.5" cy="71.5" r="1.469" fill="#17becf" stroke="#17becf" stroke-width="1.389"/>
<path d="M404.57 487.89L386.06 486.7L372.59 485.33L362.47 483.8L354.66 482.11L348.48 480.27L343.46 478.27L339.27 476.12L335.69 473.82L332.54 471.36L329.69 468.74L327.06 465.97L324.55 463.04L322.14 459.95L319.76 456.72L317.39 453.33L315.01 449.8L312.6 446.12L310.15 442.32L307.64 438.39L305.08 434.34L302.46 430.19L299.78 425.95L297.04 421.62L294.24 417.24L291.4 412.8L288.51 408.32L285.59 403.83L282.63 399.33L279.65 394.84L276.66 390.38L273.66 385.95L270.66 381.58L267.67 377.28L264.7 373.05L261.75 368.91L258.84 364.87L255.96 360.94L253.13 357.12L250.35 353.41L247.63 349.83L244.96 346.38L242.36 343.05L239.82 339.85L237.35 336.78L234.95 333.84L232.62 331.02L230.37 328.33L228.18 325.77L226.08 323.32L224.04 320.98L222.08 318.76L220.19 316.65L218.37 314.64L216.62 312.73L214.93 310.92L213.32 309.19L211.76 307.56L210.28 306.01L208.85 304.54L207.48 303.14L206.17 301.82L204.91 300.57L203.71 299.38L202.56 298.25L201.46 297.18L200.4 296.16L199.4 295.2L198.43 294.29L197.51 293.42L196.63 292.6L195.79 291.82L194.98 291.08L194.21 290.37L193.48 289.7L192.77 289.07L192.1 288.47L191.46 287.89L190.85 287.35L190.26 286.83L189.7 286.34L189.17 285.87L188.66 285.43L188.17 285.01L187.7 284.6L187.25 284.22L186.83 283.86L186.42 283.51L186.03 283.18L185.66 282.87L185.31 282.57L184.97 282.28L184.64 282.01L184.33 281.75L183.76 281.27L183.23 280.83L182.75 280.43L182.31 280.07L181.9 279.74L181.53 279.44L181.2 279.17L180.75 278.8L180.36 278.48L180.01 278.21L179.62 277.89L179.29 277.63L178.96 277.36L178.64 277.11L178.31 276.85L177.99 276.6L177.68 276.35" fill="none" stroke="#1f77b4" stroke-width="1.111"/>
<circle cx="405.5" cy="488.5" r="1.469" fill="#ff7f0e" stroke="#ff7f0e" stroke-width="1.389"/>
<path d="M404.57 428.38L375.41 426.58L354.59 424.14L339.03 421.24L326.95 417.98L317.26 414.45L309.26 410.71L302.48 406.81L296.59 402.78L291.36 398.67L286.63 394.5L282.28 390.29L278.23 386.08L274.42 381.87L270.79 377.7L267.32 373.58L263.98 369.53L260.75 365.55L257.62 361.66L254.6 357.87L251.65 354.18L248.8 350.61L246.02 347.15L243.33 343.82L240.72 340.61L238.19 337.52L235.73 334.56L233.36 331.73L231.06 329.01L228.84 326.42L226.7 323.95L224.64 321.59L222.64 319.34L220.73 317.2L218.88 315.17L217.11 313.23L215.4 311.4L213.77 309.65L212.19 308L210.69 306.42L209.24 304.93L207.86 303.52L206.53 302.18L205.26 300.9L204.04 299.7L202.87 298.55L201.76 297.47L200.69 296.44L199.67 295.46L198.69 294.53L197.76 293.65L196.87 292.82L196.02 292.03L195.2 291.28L194.42 290.56L193.68 289.88L192.96 289.24L192.28 288.63L191.63 288.05L191.01 287.5L190.42 286.97L189.85 286.47L189.31 286L188.79 285.55L188.3 285.12L187.83 284.71L187.38 284.32L186.94 283.96L186.53 283.6L186.14 283.27L185.76 282.95L185.4 282.65L185.06 282.36L184.73 282.08L184.42 281.82L183.83 281.33L183.3 280.89L182.81 280.48L182.36 280.12L181.96 279.78L181.58 279.48L181.24 279.2L180.93 278.95L180.52 278.61L180.15 278.32L179.83 278.06L179.47 277.77L179.1 277.48L178.75 277.2L178.41 276.93L178.09 276.67L177.77 276.42L177.65 276.33" fill="none" stroke="#2ca02c" stroke-width="1.111"/>
<circle cx="405.5" cy="428.5" r="1.469" fill="#d62728" stroke="#d62728" stroke-width="1.389"/>
<path d="M404.57 309.37L356.09 318.22L324.44 323.4L302.31 326.34L286.05 327.8L273.65 328.26L263.9 328.02L256.03 327.3L249.54 326.23L244.09 324.91L239.42 323.42L235.37 321.83L231.8 320.16L228.62 318.47L225.76 316.76L223.16 315.06L220.78 313.39L218.58 311.76L216.54 310.16L214.64 308.62L212.87 307.13L211.2 305.69L209.62 304.32L208.14 302.99L206.73 301.73L205.39 300.52L204.13 299.37L202.92 298.26L201.78 297.22L200.69 296.22L199.65 295.27L198.66 294.36L197.72 293.5L196.82 292.68L195.96 291.9L195.14 291.16L194.36 290.46L193.62 289.79L192.9 289.16L192.22 288.55L191.57 287.98L190.96 287.43L190.36 286.91L189.8 286.42L189.26 285.94L188.74 285.5L188.25 285.07L187.78 284.67L187.33 284.28L186.9 283.91L186.49 283.56L186.1 283.23L185.72 282.92L185.37 282.61L185.02 282.33L184.7 282.05L184.39 281.79L183.8 281.31L183.27 280.86L182.78 280.46L182.34 280.1L181.93 279.77L181.56 279.46L181.23 279.19L180.77 278.82L180.38 278.5L180.03 278.22L179.64 277.9L179.31 277.64L178.97 277.37L178.65 277.12L178.31 276.85L177.99 276.6L177.68 276.35L177.63 276.32" fill="none" stroke="#9467bd" stroke-width="1.111"/>
<circle cx="405.5" cy="309.5" r="1.469" fill="#8c564b" stroke="#8c564b" stroke-width="1.389"/>
<path d="M404.57 150.68L333.81 194.14L293.04 220.98L266.95 238.82L249.09 251.24L236.27 260.15L226.74 266.67L219.46 271.49L213.78 275.09L209.26 277.78L205.62 279.77L202.64 281.25L200.17 282.32L198.1 283.08L196.34 283.6L194.84 283.94L193.54 284.13L192.41 284.2L191.41 284.19L190.53 284.11L189.74 283.99L189.02 283.82L188.38 283.63L187.79 283.42L187.25 283.19L186.75 282.96L186.28 282.72L185.85 282.48L185.45 282.25L185.07 282.01L184.72 281.78L184.39 281.56L183.77 281.13L183.23 280.73L182.73 280.35L182.28 280.01L181.88 279.69L181.51 279.4L181.17 279.13L180.72 278.77L180.33 278.46L179.99 278.19L179.6 277.88L179.28 277.62L178.95 277.35L178.59 277.07L178.27 276.82L177.95 276.57L177.64 276.32L177.63 276.31" fill="none" stroke="#e377c2" stroke-width="1.111"/>
<circle cx="405.5" cy="151.5" r="1.469" fill="#7f7f7f" stroke="#7f7f7f" stroke-width="1.389"/>
<path d="M404.57 71.34L323.9 139.31L280.09 179.51L253.12 205.65L235.17 223.69L222.6 236.64L213.45 246.2L206.61 253.39L201.39 258.88L197.34 263.11L194.16 266.4L191.62 268.97L189.59 270.98L187.94 272.57L186.6 273.81L185.5 274.78L184.58 275.55L183.82 276.14L183.18 276.6L182.64 276.95L182.18 277.22L181.79 277.42L181.16 277.67L180.68 277.78L180.14 277.79L179.74 277.71L179.34 277.55L178.97 277.33L178.6 277.07L178.27 276.82L177.95 276.57L177.64 276.32L177.62 276.31" fill="none" stroke="#bcbd22" stroke-width="1.111"/>
<circle cx="405.5" cy="71.5" r="1.469" fill="#17becf" stroke="#17becf" stroke-width="1.389"/>
<path d="M578.41 487.89L495.13 487.67L446.07 487L414.36 486.03L392.58 484.82L376.96 483.41L365.35 481.81L356.48 480.04L349.51 478.1L343.89 476L339.24 473.74L335.28 471.31L331.82 468.73L328.72 465.98L325.86 463.07L323.17 460.01L320.58 456.79L318.06 453.42L315.55 449.9L313.05 446.24L310.52 442.44L307.96 438.52L305.35 434.49L302.69 430.34L299.99 426.11L297.23 421.79L294.42 417.41L291.57 412.97L288.67 408.5L285.74 404.01L282.78 399.51L279.79 395.02L276.8 390.55L273.79 386.13L270.79 381.76L267.8 377.45L264.83 373.22L261.88 369.08L258.96 365.03L256.08 361.1L253.25 357.27L250.47 353.56L247.74 349.98L245.07 346.52L242.46 343.18L239.92 339.98L237.45 336.9L235.05 333.96L232.71 331.14L230.46 328.44L228.27 325.87L226.16 323.41L224.12 321.08L222.16 318.85L220.26 316.73L218.44 314.72L216.69 312.81L215 310.99L213.38 309.26L211.83 307.63L210.34 306.07L208.91 304.6L207.53 303.2L206.22 301.87L204.96 300.62L203.76 299.42L202.61 298.29L201.5 297.22L200.45 296.2L199.44 295.24L198.47 294.32L197.55 293.45L196.66 292.63L195.82 291.85L195.01 291.11L194.24 290.4L193.51 289.73L192.8 289.09L192.13 288.49L191.49 287.92L190.87 287.37L190.28 286.85L189.72 286.36L189.19 285.89L188.68 285.45L188.19 285.02L187.72 284.62L187.27 284.24L186.85 283.87L186.44 283.52L186.05 283.19L185.68 282.88L185.32 282.58L184.98 282.29L184.66 282.02L184.35 281.76L183.77 281.28L183.24 280.84L182.76 280.44L182.31 280.08L181.91 279.75L181.54 279.45L181.21 279.17L180.75 278.81L180.36 278.49L180.02 278.21L179.62 277.9L179.3 277.63L178.96 277.37L178.65 277.12L178.31 276.85L177.99 276.6L177.69 276.36" fill="none" stroke="#1f77b4" stroke-width="1.111"/>
<circle cx="578.5" cy="488.5" r="1.469" fill="#ff7f0e" stroke="#ff7f0e" stroke-width="1.389"/>
<path d="M578.41 428.38L481.98 430.23L426.31 430.04L390.46 428.68L365.63 426.55L347.52 423.88L333.73 420.8L322.87 417.41L314.03 413.78L306.65 409.96L300.31 405.99L294.76 401.92L289.78 397.77L285.24 393.57L281.05 389.34L277.11 385.12L273.38 380.91L269.83 376.75L266.41 372.63L263.12 368.59L259.93 364.63L256.85 360.76L253.85 356.99L250.93 353.32L248.1 349.78L245.35 346.35L242.68 343.04L240.09 339.86L237.58 336.81L235.15 333.87L232.79 331.07L230.52 328.38L228.32 325.82L226.2 323.37L224.15 321.04L222.18 318.82L220.28 316.7L218.45 314.69L216.69 312.78L215 310.97L213.38 309.25L211.83 307.61L210.33 306.06L208.9 304.59L207.53 303.19L206.22 301.86L204.96 300.61L203.75 299.42L202.6 298.29L201.5 297.21L200.44 296.2L199.43 295.23L198.47 294.32L197.54 293.45L196.66 292.63L195.82 291.84L195.01 291.1L194.24 290.4L193.5 289.73L192.8 289.09L192.13 288.49L191.48 287.91L190.87 287.37L190.28 286.85L189.72 286.36L189.18 285.89L188.67 285.44L188.18 285.02L187.72 284.62L187.27 284.23L186.84 283.87L186.44 283.52L186.05 283.19L185.68 282.88L185.32 282.58L184.98 282.29L184.66 282.02L184.35 281.76L183.77 281.28L183.24 280.84L182.75 280.44L182.31 280.08L181.91 279.75L181.54 279.44L181.2 279.17L180.75 278.81L180.36 278.49L180.02 278.21L179.62 277.9L179.3 277.63L178.96 277.37L178.65 277.12L178.31 276.85L177.99 276.6L177.67 276.35L177.65 276.33" fill="none" stroke="#2ca02c" stroke-width="1.111"/>
<circle cx="578.5" cy="428.5" r="1.469" fill="#d62728" stroke="#d62728" stroke-width="1.389"/>
<path d="M578.41 309.37L458.02 326.23L392.73 335.12L352.15 339.91L324.7 342.31L304.99 343.18L290.22 343.04L278.74 342.21L269.57 340.89L262.05 339.24L255.76 337.36L250.4 335.32L245.74 333.19L241.65 331.01L238 328.81L234.7 326.61L231.7 324.44L228.95 322.32L226.4 320.24L224.03 318.23L221.82 316.28L219.74 314.41L217.78 312.6L215.93 310.87L214.17 309.22L212.51 307.63L210.93 306.12L209.43 304.68L207.99 303.3L206.63 301.99L205.33 300.75L204.09 299.56L202.91 298.44L201.78 297.37L200.7 296.35L199.67 295.38L198.69 294.47L197.75 293.6L196.86 292.77L196 291.98L195.18 291.23L194.4 290.52L193.66 289.85L192.95 289.21L192.26 288.6L191.61 288.02L190.99 287.47L190.4 286.95L189.83 286.45L189.29 285.98L188.78 285.53L188.28 285.1L187.81 284.7L187.36 284.31L186.93 283.94L186.52 283.59L186.13 283.26L185.75 282.94L185.39 282.64L185.05 282.35L184.72 282.07L184.41 281.81L183.82 281.32L183.29 280.88L182.8 280.48L182.36 280.11L181.95 279.78L181.58 279.47L181.24 279.2L180.78 278.83L180.38 278.51L180.04 278.23L179.64 277.91L179.31 277.65L178.97 277.38L178.66 277.12L178.31 276.85L177.99 276.6L177.68 276.35L177.64 276.32" fill="none" stroke="#9467bd" stroke-width="1.111"/>
<circle cx="578.5" cy="309.5" r="1.469" fill="#8c564b" stroke="#8c564b" stroke-width="1.389"/>
<path d="M578.41 150.68L430.14 206.43L357.07 237.1L314.24 256.06L286.45 268.54L267.2 277.06L253.21 282.99L242.67 287.15L234.52 290.06L228.06 292.05L222.84 293.37L218.54 294.19L214.96 294.63L211.93 294.79L209.33 294.73L207.08 294.52L205.1 294.18L203.36 293.76L201.79 293.28L200.39 292.76L199.11 292.2L197.94 291.63L196.87 291.06L195.88 290.48L194.96 289.91L194.11 289.35L193.3 288.8L192.55 288.27L191.85 287.75L191.18 287.25L190.55 286.77L189.95 286.3L189.39 285.86L188.85 285.43L188.34 285.02L187.86 284.63L187.4 284.25L186.96 283.89L186.54 283.55L186.14 283.22L185.76 282.91L185.4 282.61L185.05 282.33L184.72 282.06L184.41 281.8L183.82 281.31L183.29 280.87L182.8 280.47L182.35 280.11L181.95 279.77L181.57 279.47L181.24 279.19L180.78 278.83L180.38 278.51L180.04 278.23L179.64 277.91L179.31 277.64L178.97 277.38L178.65 277.12L178.31 276.85L177.99 276.6L177.68 276.35L177.63 276.31" fill="none" stroke="#e377c2" stroke-width="1.111"/>
<circle cx="578.5" cy="151.5" r="1.469" fill="#7f7f7f" stroke="#7f7f7f" stroke-width="1.389"/>
<path d="M578.41 71.34L417.67 153.24L342.15 196.97L299.1 223.75L271.71 241.46L253.03 253.73L239.65 262.49L229.71 268.86L222.13 273.56L216.2 277.03L211.49 279.61L207.68 281.5L204.56 282.88L201.97 283.87L199.79 284.55L197.94 284.99L196.35 285.25L194.98 285.37L193.77 285.39L192.71 285.31L191.76 285.18L190.91 285L190.14 284.79L189.44 284.55L188.8 284.29L188.22 284.02L187.67 283.75L187.17 283.47L186.7 283.2L186.26 282.93L185.84 282.66L185.46 282.4L185.09 282.15L184.74 281.9L184.42 281.66L183.81 281.21L183.26 280.79L182.77 280.41L182.32 280.05L181.91 279.73L181.54 279.43L181.21 279.16L180.75 278.8L180.36 278.48L180.01 278.21L179.62 277.89L179.29 277.63L178.96 277.37L178.64 277.12L178.31 276.85L177.99 276.6L177.67 276.35L177.63 276.31" fill="none" stroke="#bcbd22" stroke-width="1.111"/>
<circle cx="578.5" cy="71.5" r="1.469" fill="#17becf" stroke="#17becf" stroke-width="1.389"/>
</g>
<g fill="none" stroke-width="2.083" clip-path="url(#ac)">
<path d="M56.90 111.01L636.35 904.43" stroke="#1f77b4" stroke-dasharray="7.708 3.333"/>
<path d="M56.90 210.19L636.35 527.56" stroke="#ff7f0e" stroke-dasharray="13.333 3.333 2.083 3.333"/>
</g>
<rect x="57.5" y="32.5" width="579" height="476" fill="none" stroke="#000" stroke-width="1.111" stroke-linejoin="miter"/>
<path d="M57.5 508.5v4.86M129.5 508.5v4.86M202.5 508.5v4.86M274.5 508.5v4.86M347.5 508.5v4.86M419.5 508.5v4.86M491.5 508.5v4.86M564.5 508.5v4.86M636.5 508.5v4.86M57.5 508.5h-4.86M57.5 428.5h-4.86M57.5 349.5h-4.86M57.5 270.5h-4.86M57.5 190.5h-4.86M57.5 111.5h-4.86M57.5 32.5h-4.86" stroke="#000" stroke-width="1.111" fill="none"/>
<g font-family="'Liberation Sans', sans-serif" fill="#000">
<text x="47.42" y="529" font-size="14.65" textLength="20.12" lengthAdjust="spacingAndGlyphs">0.0</text>
<text x="117.57" y="529" font-size="14.65" textLength="21.73" lengthAdjust="spacingAndGlyphs">2.5</text>
<text x="191.82" y="529" font-size="14.65" textLength="20.13" lengthAdjust="spacingAndGlyphs">5.0</text>
<text x="263.07" y="529" font-size="14.65" textLength="19.74" lengthAdjust="spacingAndGlyphs">7.5</text>
<text x="331.48" y="529" font-size="14.65" textLength="29.53" lengthAdjust="spacingAndGlyphs">10.0</text>
<text x="402.88" y="529" font-size="14.65" textLength="29.87" lengthAdjust="spacingAndGlyphs">12.5</text>
<text x="476.9" y="529" font-size="14.65" textLength="30.02" lengthAdjust="spacingAndGlyphs">15.0</text>
<text x="548.81" y="529" font-size="14.65" textLength="28.73" lengthAdjust="spacingAndGlyphs">17.5</text>
<text x="621.3" y="529" font-size="14.65" textLength="30.31" lengthAdjust="spacingAndGlyphs">20.0</text>
<text x="39.22" y="514" font-size="14.65" textLength="8.19" lengthAdjust="spacingAndGlyphs">0</text>
<text x="38.37" y="435" font-size="14.65" textLength="7.96" lengthAdjust="spacingAndGlyphs">2</text>
<text x="39.47" y="355" font-size="14.65" textLength="8.03" lengthAdjust="spacingAndGlyphs">4</text>
<text x="38.19" y="276" font-size="14.65" textLength="8.33" lengthAdjust="spacingAndGlyphs">6</text>
<text x="38.57" y="197" font-size="14.65" textLength="8.08" lengthAdjust="spacingAndGlyphs">8</text>
<text x="30.26" y="117" font-size="14.65" textLength="15.89" lengthAdjust="spacingAndGlyphs">10</text>
<text x="30.27" y="38" font-size="14.65" textLength="15.79" lengthAdjust="spacingAndGlyphs">12</text>
<text x="337.04" y="549" font-size="14.65" textLength="17.42" lengthAdjust="spacingAndGlyphs">N1</text>
<text transform="translate(21 281.52) rotate(-90)" x="0" y="0" font-size="14.65" textLength="16.99" lengthAdjust="spacingAndGlyphs">N2</text>
<text y="24" font-size="17.58"><tspan x="137.88" textLength="18.46" lengthAdjust="spacingAndGlyphs">LV</tspan> <tspan x="161.81" textLength="99.26" lengthAdjust="spacingAndGlyphs">competition</tspan> <tspan x="267.35" textLength="15.04" lengthAdjust="spacingAndGlyphs">—</tspan> <tspan x="288.79" textLength="26.82" lengthAdjust="spacingAndGlyphs">Set</tspan> <tspan x="321.26" textLength="16.25" lengthAdjust="spacingAndGlyphs">A:</tspan> <tspan x="343.52" textLength="49.9" lengthAdjust="spacingAndGlyphs">phase</tspan> <tspan x="399.01" textLength="61.92" lengthAdjust="spacingAndGlyphs">portrait</tspan> <tspan x="467.19" textLength="12.54" lengthAdjust="spacingAndGlyphs">+</tspan> <tspan x="486.07" textLength="70.96" lengthAdjust="spacingAndGlyphs">isoclines</tspan></text>
</g>
<rect x="537.5" y="252.5" width="94" height="35" rx="2.22" ry="2.22" fill="#ffffff" fill-opacity="0.8" stroke="#cccccc" stroke-opacity="0.8" stroke-width="1.389"/>
<path d="M540.99 261L562.91 261" stroke="#1f77b4" stroke-width="2.083" stroke-dasharray="7.708 3.333" fill="none"/>
<path d="M540.99 277L562.91 277" stroke="#ff7f0e" stroke-width="2.083" stroke-dasharray="13.333 3.333 2.083 3.333" fill="none"/>
<g font-family="'Liberation Sans', sans-serif" fill="#000">
<text x="571.42" y="266" font-size="11.72" textLength="53.68" lengthAdjust="spacingAndGlyphs">dN1/dt=0</text>
<text x="571.9" y="281" font-size="11.72" textLength="53.5" lengthAdjust="spacingAndGlyphs">dN2/dt=0</text>
</g>
</svg>
</body></html>
